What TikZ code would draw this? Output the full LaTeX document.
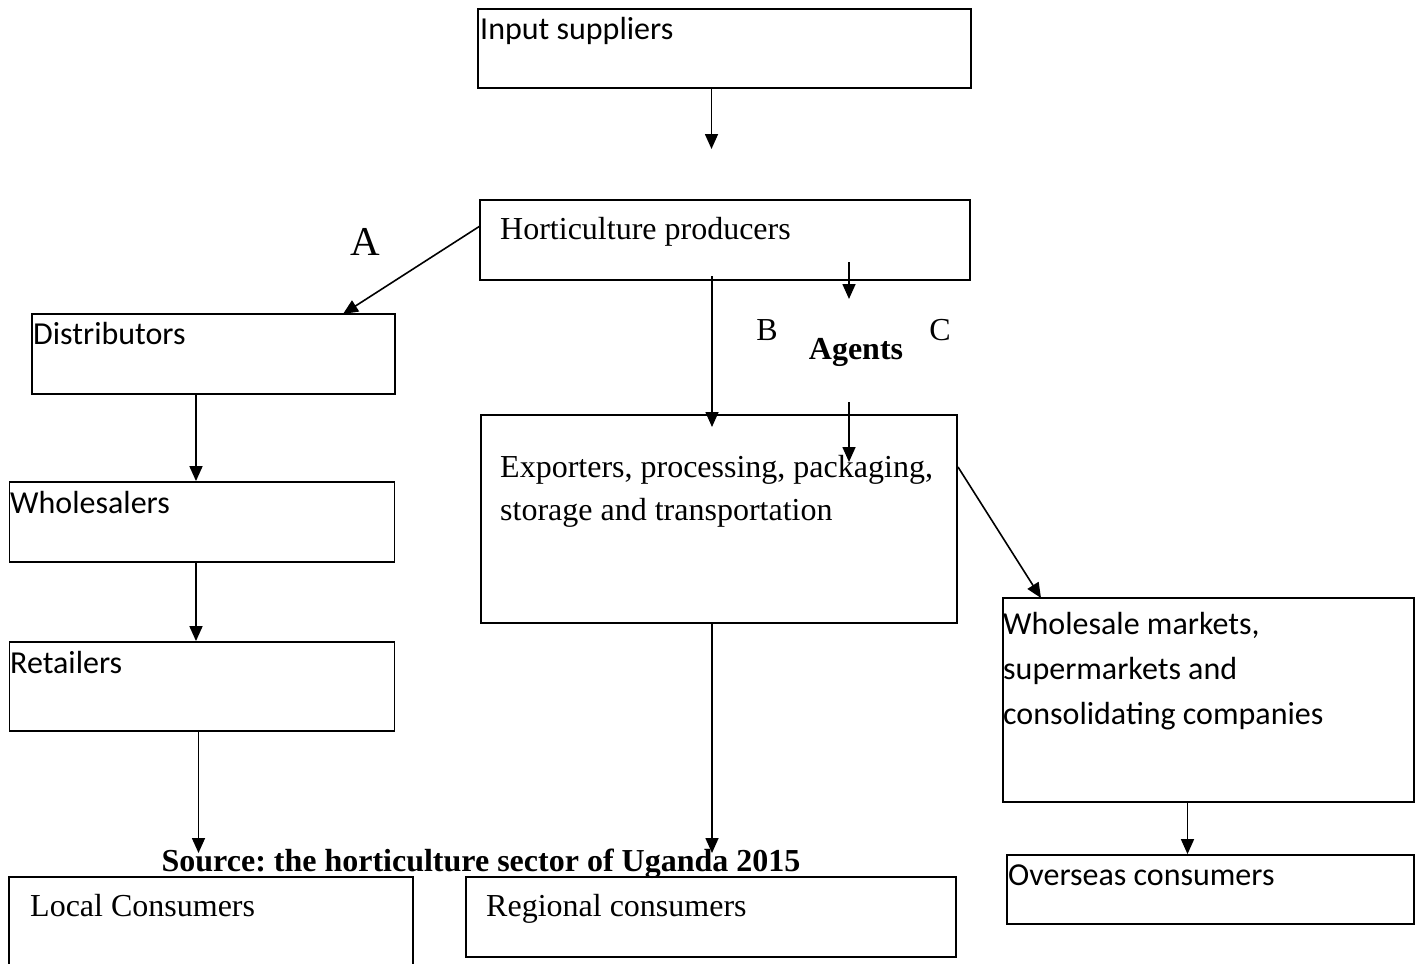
\documentclass[tikz,border=0pt]{standalone}
\usepackage{fontspec}
\setmainfont{Liberation Serif}
\newfontfamily\calfont{Carlito}
\usetikzlibrary{arrows.meta}
\frenchspacing
\begin{document}
\begin{tikzpicture}[x=1pt,y=-1pt,
  box/.style={draw,line width=1.8pt,rectangle,inner sep=0pt},
  sanstxt/.style={anchor=base west,inner sep=0pt,font=\calfont\fontsize{32}{45}\selectfont},
  seriftxt/.style={anchor=base west,inner sep=0pt,font=\fontsize{32}{43}\selectfont},
  lbl/.style={inner sep=0pt,font=\fontsize{32}{38}\selectfont},
  conn/.style={line width=1.6pt,-{Triangle[length=15pt,width=13pt]}}]
\useasboundingbox (0,0) rectangle (1423,963);
% boxes
\node[box,minimum width=493pt,minimum height=79pt] (inp) at (724.5,48.5) {};
\node[box,minimum width=490pt,minimum height=80pt] (prod) at (725,240) {};
\node[box,minimum width=363pt,minimum height=80pt] (dist) at (213.5,354) {};
\node[box,minimum width=385pt,minimum height=80pt] (whol) at (202,522) {};
\node[box,minimum width=385pt,minimum height=89pt] (ret) at (202,686.5) {};
\node[box,minimum width=476pt,minimum height=208pt] (exp) at (719,519) {};
\node[box,minimum width=411pt,minimum height=204pt] (wm) at (1208.5,700) {};
\node[box,minimum width=407pt,minimum height=69pt] (over) at (1210.5,889.5) {};
\node[box,minimum width=404pt,minimum height=100pt] (loc) at (211,927) {};
\node[box,minimum width=490pt,minimum height=80pt] (reg) at (711,917) {};
% texts
\node[sanstxt] (tinp) at (480,40) {Input suppliers};
\node[seriftxt] (tprod) at (500,239) {Horticulture producers};
\node[sanstxt] (tdist) at (33,344) {Distributors};
\node[sanstxt] (twhol) at (10,513) {Wholesalers};
\node[sanstxt] (tret) at (10,673) {Retailers};
\node[seriftxt,align=left,anchor=north west] (texp) at (500,455) {Exporters, processing, packaging,\\storage and transportation};
\node[sanstxt,align=left,anchor=north west] (twm) at (1003,612) {Wholesale markets,\\supermarkets and\\consolidating companies};
\node[sanstxt] (tover) at (1008,885) {Overseas consumers};
\node[seriftxt] (tloc) at (30,916) {Local Consumers};
\node[seriftxt] (treg) at (486,916) {Regional consumers};
\node[inner sep=0pt,anchor=base,font=\bfseries\fontsize{32}{38}\selectfont] (src) at (481,871) {Source: the horticulture sector of Uganda 2015};
\node[inner sep=0pt,font=\fontsize{41}{48}\selectfont] (A) at (365,242) {A};
\node[lbl] (B) at (767,330) {B};
\node[lbl] (C) at (940,330) {C};
\node[inner sep=0pt,font=\bfseries\fontsize{32}{38}\selectfont] (agents) at (856,352) {Agents};
% coordinates for free ends
\coordinate (p1) at (711.5,149);
\coordinate (pA) at (480,226);
\coordinate (dA) at (343,314);
\coordinate (pm) at (712,276);
\coordinate (em) at (712,427);
\coordinate (pag) at (849,262);
\coordinate (agt) at (849,299);
\coordinate (agb) at (849,402);
\coordinate (eag) at (849,462);
\coordinate (er) at (958,467);
\coordinate (wmt) at (1041,598);
\coordinate (ret1) at (198.5,853);
\coordinate (exp1) at (712,853);
% connectors
\draw[conn] (inp.south -| p1) -- (p1);
\draw[conn] (pA) -- (dA);
\draw[conn] (dist.south -| 196,0) -- (whol.north -| 196,0);
\draw[conn] (whol.south -| 196,0) -- (ret.north -| 196,0);
\draw[conn] (ret.south -| ret1) -- (ret1);
\draw[conn] (pm) -- (em);
\draw[conn] (pag) -- (agt);
\draw[conn] (agb) -- (eag);
\draw[conn] (exp.south -| exp1) -- (exp1);
\draw[conn] (er) -- (wmt);
\draw[conn] (wm.south -| 1187.5,0) -- (over.north -| 1187.5,0);
\end{tikzpicture}
\end{document}
